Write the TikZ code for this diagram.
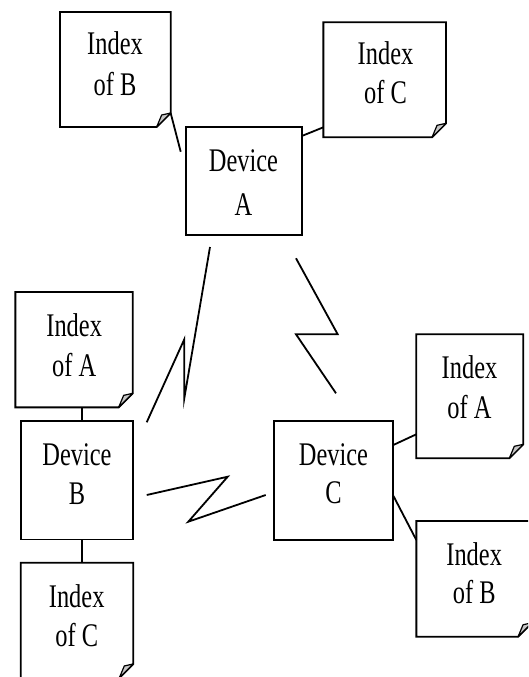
\documentclass[tikz,border=0pt]{standalone}
\usepackage{fontspec}
\setmainfont{Liberation Serif}[FakeStretch=0.74]
\tikzset{
  box/.style={draw, line width=1.8pt, inner sep=0pt, outer sep=0pt},
  docbox/.style={inner sep=0pt, outer sep=0pt},
  docline/.style={line width=1.8pt, line join=miter},
  flapst/.style={line width=1.2pt, fill=gray!45, line join=round},
  conn/.style={line width=1.8pt},
  bolt/.style={line width=1.8pt, line join=miter, miter limit=20},
  txt/.style={anchor=base, inner sep=0pt, font=\fontsize{33}{40}\selectfont}
}
\newcommand\drawdoc[1]{%
  \draw[docline] (#1.north west) -- (#1.north east) -- ([yshift=14pt]#1.south east)
     -- ([xshift=-14pt]#1.south east) -- (#1.south west) -- cycle;
  \filldraw[flapst] ([xshift=-14pt]#1.south east) -- ([xshift=-9pt,yshift=12pt]#1.south east)
     -- ([yshift=14pt]#1.south east) -- cycle;}
\begin{document}
\begin{tikzpicture}[x=1pt,y=-1pt]
\useasboundingbox (0,0) rectangle (528,677);
\clip (0,0) rectangle (528,677);
% document shapes
\node[docbox, minimum width=110.7pt, minimum height=115pt] (ibB) at (115.3,69.5) {};
\node[docbox, minimum width=122.7pt, minimum height=115pt] (icC) at (384.7,79.8) {};
\node[docbox, minimum width=117.3pt, minimum height=115.3pt] (iaA) at (74,349.7) {};
\node[docbox, minimum width=107pt, minimum height=124pt] (iaR) at (469.8,396.3) {};
\node[docbox, minimum width=115.7pt, minimum height=115.7pt] (ibR) at (474.2,578.9) {};
\node[docbox, minimum width=112.6pt, minimum height=115.3pt] (icB) at (77,620.3) {};
\drawdoc{ibB}\drawdoc{icC}\drawdoc{iaA}\drawdoc{iaR}\drawdoc{ibR}\drawdoc{icB}
% devices
\node[box, minimum width=116pt, minimum height=107.7pt] (devA) at (243.7,181.2) {};
\node[box, minimum width=112.6pt, minimum height=118.5pt] (devB) at (77,480.3) {};
\node[box, minimum width=119pt, minimum height=119pt] (devC) at (333.8,480.5) {};
% texts
\node[txt] (tB1) at (115,55) {Index};   \node[txt] (tB2) at (115,95) {of B};
\node[txt] (tC1) at (385.5,65) {Index}; \node[txt] (tC2) at (385.5,103.3) {of C};
\node[txt] (tA1) at (243.5,171.7) {Device}; \node[txt] (tA2) at (243.5,215) {A};
\node[txt] (tL1) at (74.2,336.7) {Index}; \node[txt] (tL2) at (74.2,376.7) {of A};
\node[txt] (tDB1) at (77,465) {Device}; \node[txt] (tDB2) at (77,504) {B};
\node[txt] (tDC1) at (333.5,465) {Device}; \node[txt] (tDC2) at (333.5,503.3) {C};
\node[txt] (tR1) at (469.5,378.3) {Index}; \node[txt] (tR2) at (469.5,418.3) {of A};
\node[txt] (tS1) at (474.2,565) {Index}; \node[txt] (tS2) at (474.2,603.3) {of B};
\node[txt] (tE1) at (76.7,607.3) {Index}; \node[txt] (tE2) at (76.7,646) {of C};
% connectors
\coordinate (fA) at (180.7,151.7);
\draw[conn] ([yshift=14pt]ibB.south east) -- (fA);
\draw[conn] ([yshift=-8.7pt]devA.north east) -- ([yshift=10pt]icC.south west);
\draw[conn] ([xshift=4.7pt]devB.north) -- ([xshift=4.7pt]devB.north |- iaA.south);
\draw[conn] ([xshift=4.7pt]devB.south) -- ([xshift=4.7pt]devB.south |- icB.north);
\draw[conn] ([yshift=-24pt]devC.north east) -- ([yshift=24pt]iaR.south west);
\draw[conn] ([yshift=-74.7pt]devC.north east) -- ([yshift=-19pt]ibR.north west);
% lightning links
\coordinate (ab1) at (210,247);   \coordinate (ab2) at (146.7,422.3);
\coordinate (ac1) at (296,258.3); \coordinate (ac2) at (336,393.3);
\coordinate (bc1) at (146.7,495); \coordinate (bc2) at (265.7,495);
\draw[bolt] (ab1) -- (184.3,398.3) -- (184.3,339.3) -- (ab2);
\draw[bolt] (ac1) -- (337.7,334.3) -- (296,334.3) -- (ac2);
\draw[bolt] (bc1) -- (227.7,476.7) -- (188.3,521.7) -- (bc2);
\end{tikzpicture}
\end{document}
